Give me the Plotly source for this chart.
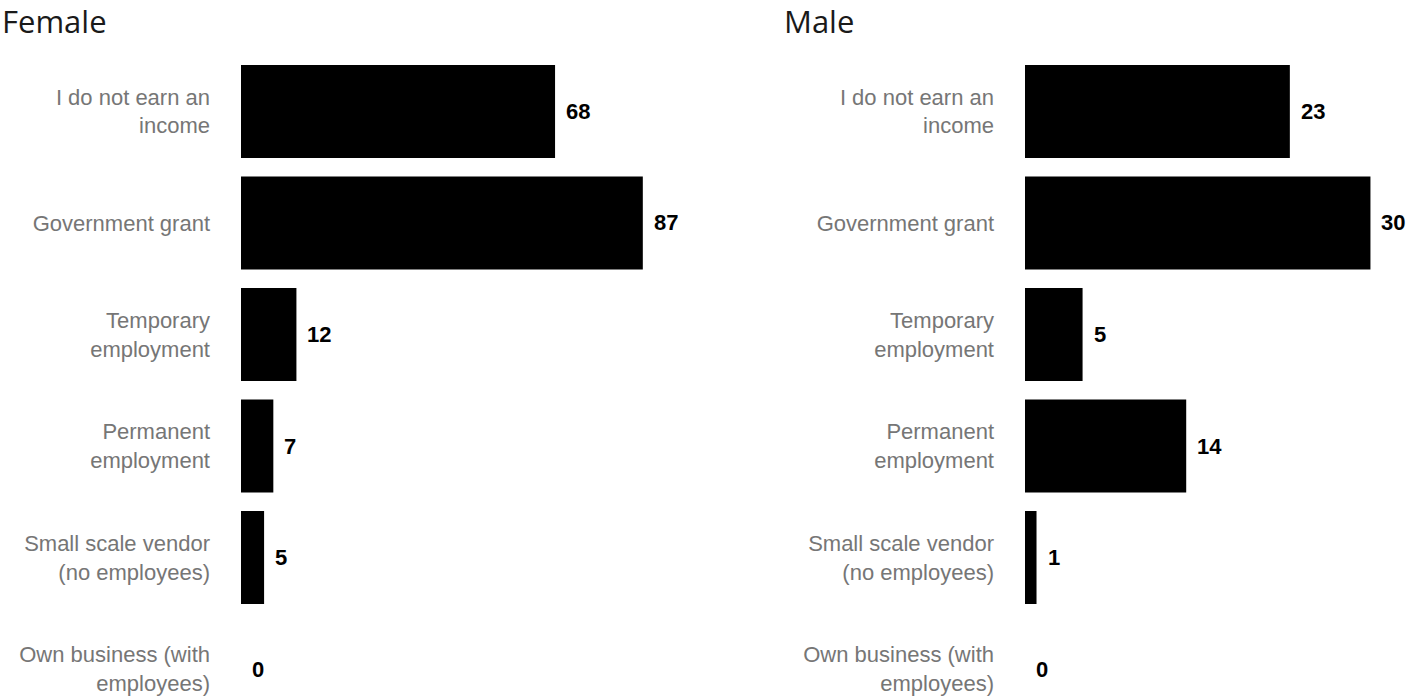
"""Income source by gender, two horizontal bar panels."""
import plotly.graph_objects as go

categories = [
    "I do not earn an<br>income",
    "Government grant",
    "Temporary<br>employment",
    "Permanent<br>employment",
    "Small scale vendor<br>(no employees)",
    "Own business (with<br>employees)",
]
female = [68, 87, 12, 7, 5, 0]
male = [23, 30, 5, 14, 1, 0]

W, H = 1408, 697
LABEL_FONT = dict(family="Liberation Sans, Arial, sans-serif", size=22, color="#767676")
VALUE_FONT = dict(family="Liberation Sans, Arial, sans-serif", size=22, color="#000000")

fig = go.Figure()

panels = [
    ("Female", female, "x", "y", 0),
    ("Male", male, "x2", "y2", 782),
]

for name, vals, xa, ya, title_x in panels:
    fig.add_trace(
        go.Bar(
            x=vals,
            y=categories,
            orientation="h",
            marker={"color": "#000000", "line": {"width": 0}},
            xaxis=xa,
            yaxis=ya,
            showlegend=False,
            hoverinfo="skip",
        )
    )
    for v, c in zip(vals, categories):
        fig.add_annotation(
            x=v, y=c, xref=xa, yref=ya, text=f"<b>{v}</b>",
            showarrow=False, xanchor="left", xshift=9, font=VALUE_FONT,
        )
    fig.add_annotation(
        x=title_x / W, y=1, xref="paper", yref="paper", text=name,
        showarrow=False, xanchor="left", yanchor="top", yshift=2,
        font={"family": "Open Sans, sans-serif", "size": 31, "color": "#1a1a1a"},
    )

top = 1 - 55.75 / H
yaxis_common = dict(
    categoryorder="array",
    categoryarray=categories,
    range=[5.251, -0.5],
    domain=[0, top],
    showgrid=False,
    zeroline=False,
    showline=False,
    ticks="",
    ticklabelstandoff=30,
    tickfont=LABEL_FONT,
)
xaxis_common = dict(showgrid=False, zeroline=False, showline=False, showticklabels=False, ticks="")

fig.update_layout(
    width=W,
    height=H,
    margin={"l": 0, "r": 0, "t": 0, "b": 0},
    plot_bgcolor="#ffffff",
    paper_bgcolor="#ffffff",
    bargap=0.166,
    xaxis=dict(xaxis_common, domain=[241 / W, 683 / W], range=[0, 95.7]),
    xaxis2=dict(xaxis_common, domain=[1025 / W, 1405 / W], range=[0, 33]),
    yaxis=dict(yaxis_common, anchor="x"),
    yaxis2=dict(yaxis_common, anchor="x2"),
)

# drop the default page margin so the figure fills the window exactly
fig.write_html(
    "out.html",
    config={"displayModeBar": False},
    post_script="document.body.style.margin='0';document.body.style.overflow='hidden';",
)
